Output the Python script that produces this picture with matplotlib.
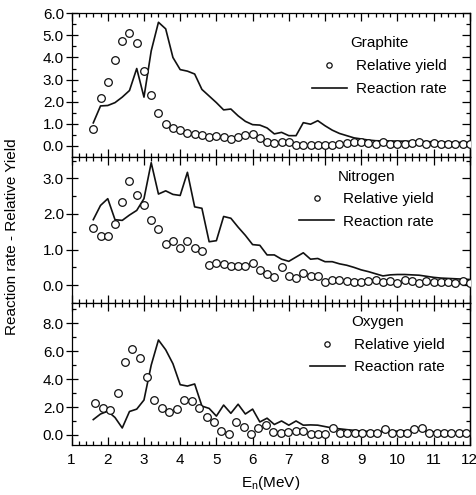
import matplotlib.pyplot as plt
from matplotlib.ticker import MultipleLocator, FormatStrFormatter

plt.rcParams['font.family'] = ['Liberation Sans', 'DejaVu Sans']
plt.rcParams['font.size'] = 11

# neutron energy grid (MeV)
energy = [1.6, 1.8, 2.0, 2.2, 2.4, 2.6, 2.8, 3.0, 3.2, 3.4, 3.6, 3.8, 4.0, 4.2,
          4.4, 4.6, 4.8, 5.0, 5.2, 5.4, 5.6, 5.8, 6.0, 6.2, 6.4, 6.6, 6.8, 7.0,
          7.2, 7.4, 7.6, 7.8, 8.0, 8.2, 8.4, 8.6, 8.8, 9.0, 9.2, 9.4, 9.6, 9.8,
          10.0, 10.2, 10.4, 10.6, 10.8, 11.0, 11.2, 11.4, 11.6, 11.8, 12.0]
# oxygen yield was measured on a slightly shifted grid
energy_o = [1.65, 1.86, 2.06, 2.27, 2.47, 2.68, 2.88, 3.09, 3.29, 3.50, 3.70,
            3.91, 4.11, 4.32, 4.52, 4.73, 4.93, 5.14, 5.34, 5.55, 5.75, 5.96,
            6.16, 6.37, 6.57, 6.78, 6.98, 7.19, 7.39, 7.60, 7.80, 8.01, 8.21,
            8.42, 8.62, 8.83, 9.03, 9.24, 9.44, 9.65, 9.85, 10.06, 10.26, 10.47,
            10.67, 10.88, 11.08, 11.29, 11.49, 11.70, 11.90]

graphite_yield = [0.75, 2.15, 2.9, 3.9, 4.75, 5.1, 4.65, 3.4, 2.3, 1.5, 1.0, 0.8,
                  0.7, 0.58, 0.53, 0.5, 0.37, 0.42, 0.38, 0.28, 0.4, 0.47, 0.53,
                  0.35, 0.17, 0.11, 0.15, 0.14, 0.03, 0.02, 0.03, 0.03, 0.03,
                  0.03, 0.06, 0.11, 0.14, 0.14, 0.11, 0.06, 0.17, 0.06, 0.08,
                  0.08, 0.1, 0.15, 0.06, 0.1, 0.06, 0.06, 0.06, 0.06, 0.06]
graphite_rate = [1.03, 1.8, 1.82, 1.95, 2.2, 2.5, 3.5, 2.2, 4.3, 5.6, 5.3, 4.0,
                 3.45, 3.38, 3.25, 2.55, 2.25, 1.95, 1.62, 1.66, 1.35, 1.1, 0.95,
                 0.93, 0.8, 0.53, 0.6, 0.45, 0.45, 1.04, 0.97, 1.13, 0.9, 0.7,
                 0.55, 0.45, 0.35, 0.3, 0.25, 0.22, 0.21, 0.21, 0.2, 0.2, 0.19,
                 0.18, 0.18, 0.17, 0.16, 0.15, 0.14, 0.14, 0.14]

nitrogen_yield = [1.6, 1.39, 1.37, 1.72, 2.35, 2.92, 2.54, 2.24, 1.84, 1.58, 1.16,
                  1.25, 1.05, 1.25, 1.05, 0.95, 0.57, 0.62, 0.6, 0.54, 0.53, 0.53,
                  0.62, 0.43, 0.31, 0.23, 0.51, 0.26, 0.19, 0.33, 0.25, 0.26,
                  0.09, 0.14, 0.14, 0.11, 0.09, 0.09, 0.11, 0.14, 0.09, 0.11,
                  0.07, 0.14, 0.11, 0.07, 0.11, 0.09, 0.09, 0.09, 0.07, 0.11, 0.07]
nitrogen_rate = [1.84, 2.24, 2.43, 1.84, 1.82, 1.97, 2.1, 2.43, 3.44, 2.56, 2.65,
                 2.55, 2.52, 3.17, 2.2, 2.16, 1.22, 1.25, 1.93, 1.88, 1.63, 1.4,
                 1.14, 1.12, 0.85, 0.85, 0.73, 0.67, 0.79, 0.91, 0.73, 0.75,
                 0.66, 0.66, 0.6, 0.56, 0.5, 0.43, 0.38, 0.32, 0.26, 0.29, 0.3,
                 0.3, 0.29, 0.28, 0.25, 0.22, 0.2, 0.19, 0.18, 0.17, 0.16]

oxygen_yield = [2.31, 1.95, 1.79, 3.02, 5.21, 6.14, 5.48, 4.12, 2.5, 1.95, 1.67,
                1.88, 2.5, 2.45, 1.95, 1.31, 0.95, 0.31, 0.07, 0.95, 0.55, 0.05,
                0.48, 0.71, 0.24, 0.17, 0.24, 0.31, 0.31, 0.07, 0.07, 0.07, 0.48,
                0.12, 0.12, 0.12, 0.12, 0.12, 0.12, 0.41, 0.12, 0.12, 0.12, 0.41,
                0.48, 0.12, 0.12, 0.12, 0.12, 0.12, 0.12]
oxygen_rate = [1.1, 1.5, 1.7, 1.25, 0.5, 1.68, 1.85, 2.5, 5.0, 6.8, 6.1, 5.1,
               3.6, 3.5, 3.65, 2.07, 1.9, 1.35, 2.14, 1.55, 2.2, 1.5, 1.85, 0.93,
               1.2, 0.75, 1.0, 0.7, 1.0, 0.7, 0.72, 0.7, 0.6, 0.5, 0.44, 0.38,
               0.33, 0.28, 0.25, 0.24, 0.24, 0.25, 0.27, 0.3, 0.32, 0.36, 0.26,
               0.22, 0.19, 0.17, 0.17, 0.17, 0.17]

panels = [
    ('Graphite', energy, graphite_yield, graphite_rate, (-0.52, 6.02), 1.0, 0.5, (0.942, 0.84), 0.6),
    ('Nitrogen', energy, nitrogen_yield, nitrogen_rate, (-0.5, 3.6), 1.0, 0.5, (0.91, 0.912), 0.55),
    ('Oxygen', energy_o, oxygen_yield, oxygen_rate, (-0.72, 9.45), 2.0, 1.0, (0.937, 0.912), 0.55),
]
rects = [[0.150, 0.6828, 0.835, 0.2909],
         [0.150, 0.3879, 0.835, 0.2949],
         [0.150, 0.1010, 0.835, 0.2869]]

fig = plt.figure(figsize=(4.77, 4.95), dpi=100)

for i, (name, e_y, ylds, rate, ylim, major, minor, anchor, spacing) in enumerate(panels):
    ax = fig.add_axes(rects[i])
    ax.plot(e_y, ylds, 'o', ms=5.5, mfc='white', mec='#111111', mew=0.9,
            label='Relative yield', zorder=3)
    ax.plot(energy, rate, '-', color='#111111', lw=1.2, label='Reaction rate')

    ax.set_xlim(1, 12)
    ax.set_ylim(*ylim)
    ax.xaxis.set_major_locator(MultipleLocator(1))
    ax.xaxis.set_minor_locator(MultipleLocator(0.2))
    ax.yaxis.set_major_locator(MultipleLocator(major))
    ax.yaxis.set_minor_locator(MultipleLocator(minor))
    ax.yaxis.set_major_formatter(FormatStrFormatter('%.1f'))

    ax.tick_params(axis='x', which='both', direction='in', top=True, bottom=True,
                   width=0.9, labelbottom=(i == 2), pad=6)
    ax.tick_params(axis='x', which='major', length=6)
    ax.tick_params(axis='x', which='minor', length=3)
    ax.tick_params(axis='y', which='major', direction='inout', length=8, width=0.9, pad=1.5)
    ax.tick_params(axis='y', which='minor', direction='in', length=3, width=0.9)

    # right-hand ticks point inward only
    right = ax.secondary_yaxis('right')
    right.yaxis.set_major_locator(MultipleLocator(major))
    right.yaxis.set_minor_locator(MultipleLocator(minor))
    right.tick_params(which='major', direction='in', length=6, width=0.9, labelright=False)
    right.tick_params(which='minor', direction='in', length=3, width=0.9)
    right.spines['right'].set_linewidth(0.9)

    for sp in ax.spines.values():
        sp.set_linewidth(0.9)

    ax.legend(title=name, loc='upper right', bbox_to_anchor=anchor,
              frameon=False, fontsize=11, title_fontsize=11,
              handlelength=2.3, handletextpad=0.6, labelspacing=spacing,
              borderpad=0, borderaxespad=0, markerscale=0.7)

    if i == 2:
        ax.set_xlabel('E$_\\mathregular{n}$(MeV)', labelpad=5)

fig.text(0.025, 0.522, 'Reaction rate - Relative Yield', rotation=90,
         ha='center', va='center', fontsize=11)

plt.savefig('out.png', dpi=100)
